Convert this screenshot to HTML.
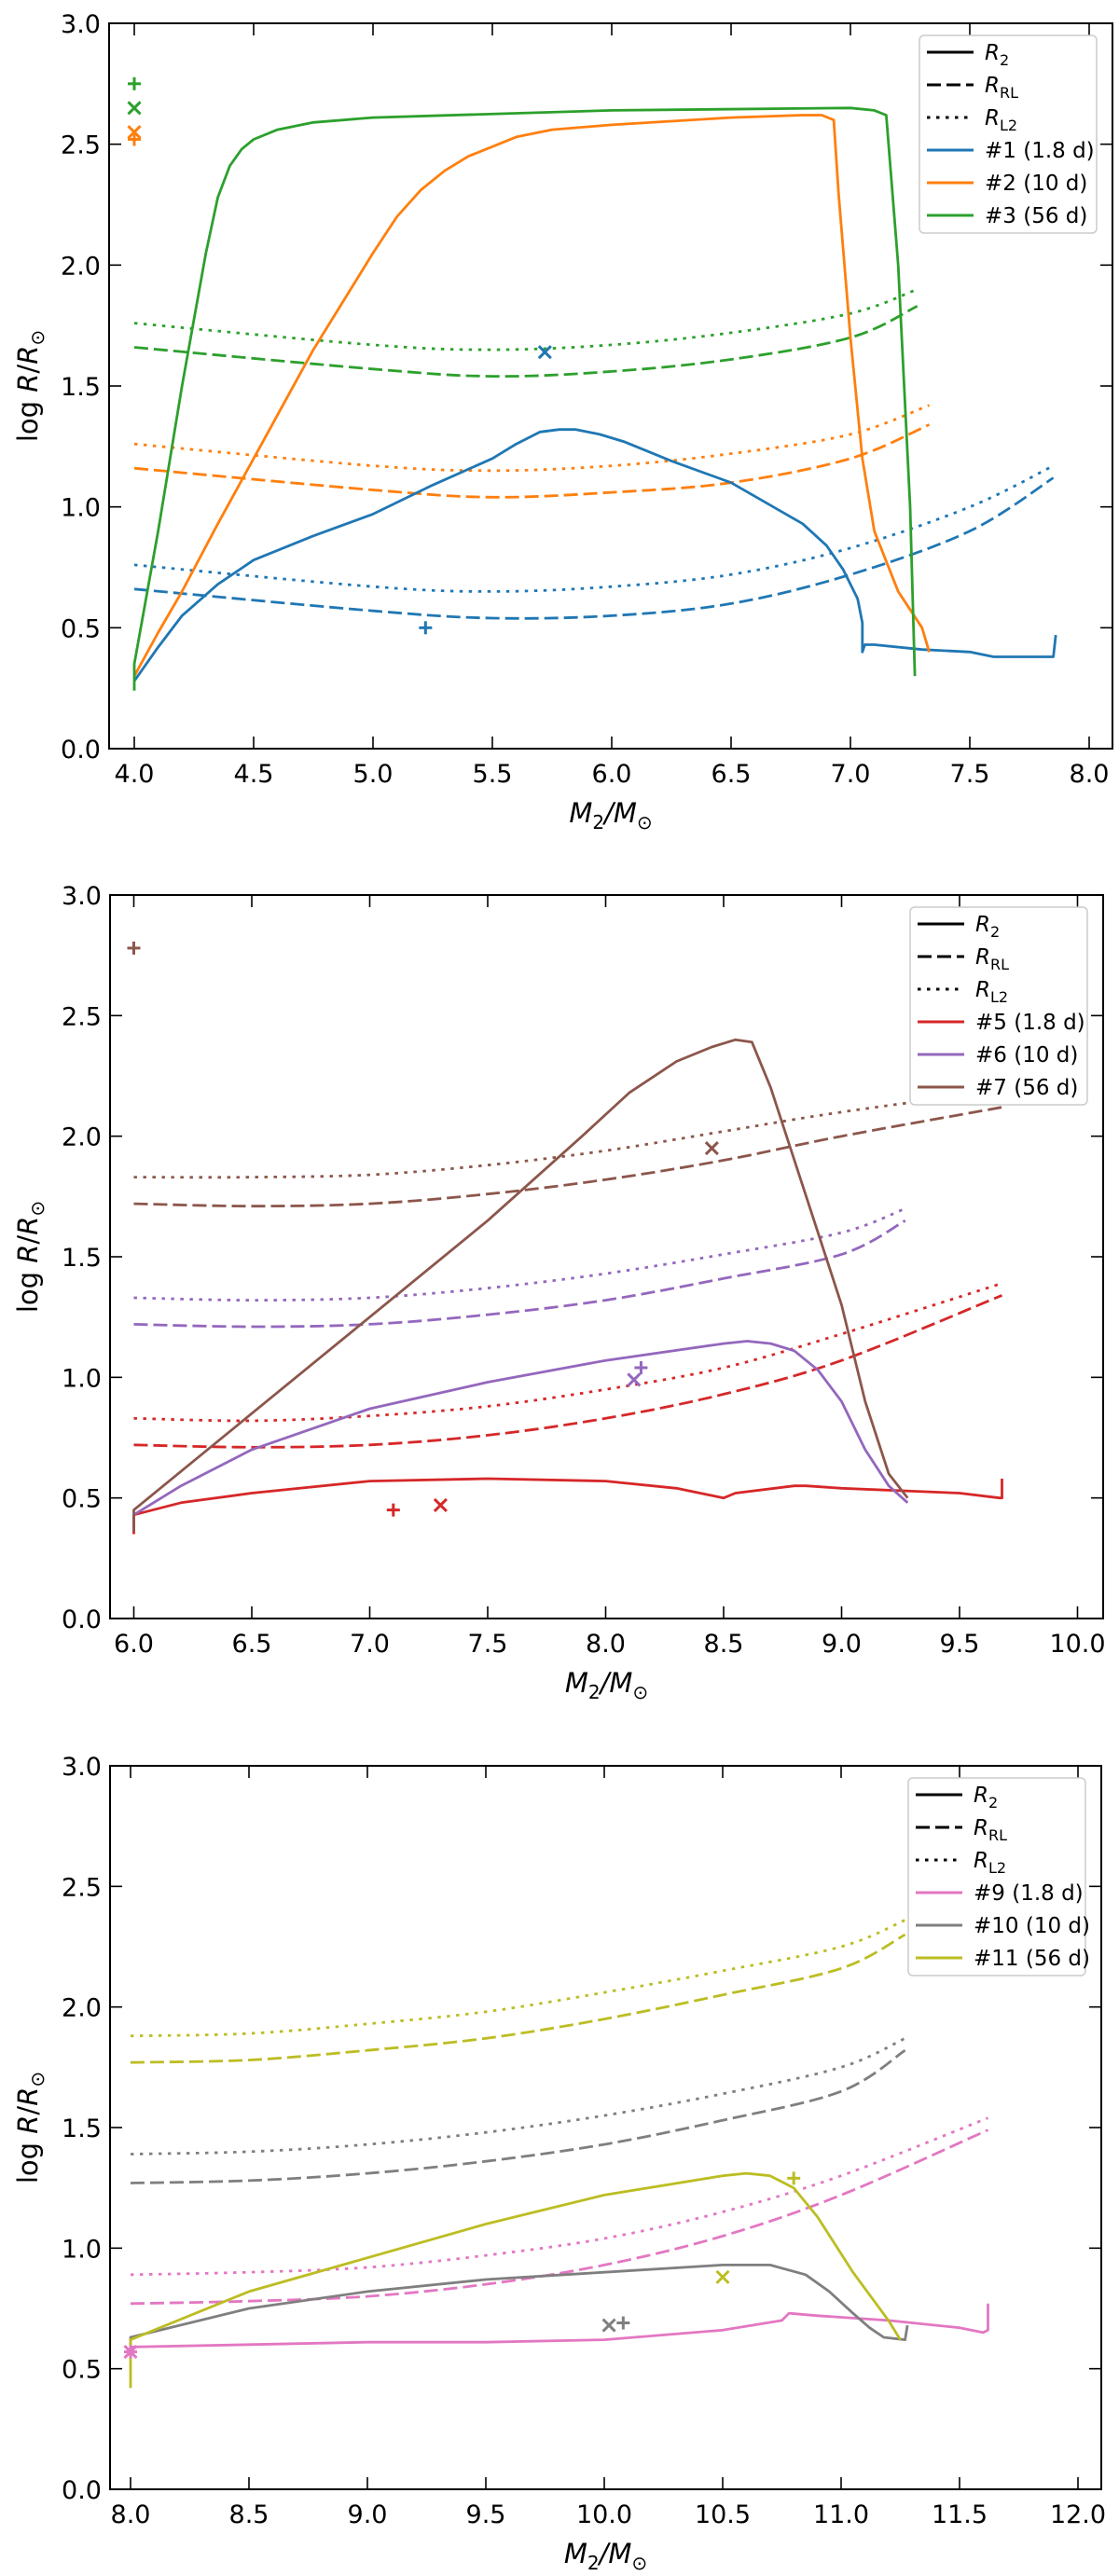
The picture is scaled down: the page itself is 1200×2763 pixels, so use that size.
<!DOCTYPE html>
<html><head><meta charset="utf-8">
<style>
html,body{margin:0;padding:0;background:#fff;}
svg{display:block;font-family:"DejaVu Sans","Liberation Sans",sans-serif;}
</style></head>
<body>
<svg id="fig" width="1200" height="2763" viewBox="0 0 1200 2763" xmlns="http://www.w3.org/2000/svg"></svg>
<script>
// ---------- Panel 1 data ----------
const p1_b_R2_x=[4.0,4.1,4.2,4.35,4.5,4.75,5.0,5.25,5.5,5.6,5.7,5.78,5.85,5.95,6.05,6.25,6.5,6.8,6.9,6.97,7.03,7.05,7.05,7.06,7.1,7.3,7.5,7.6,7.85,7.86];
const p1_b_R2_y=[0.28,0.42,0.55,0.68,0.78,0.88,0.97,1.09,1.2,1.26,1.31,1.32,1.32,1.3,1.27,1.19,1.1,0.93,0.84,0.74,0.62,0.52,0.4,0.43,0.43,0.41,0.4,0.38,0.38,0.47];
const p1_o_R2_x=[4.0,4.1,4.2,4.35,4.5,4.75,5.0,5.1,5.2,5.3,5.4,5.5,5.6,5.75,6.0,6.5,6.8,6.88,6.93,6.95,7.0,7.05,7.1,7.2,7.3,7.33];
const p1_o_R2_y=[0.3,0.48,0.65,0.93,1.2,1.65,2.05,2.2,2.31,2.39,2.45,2.49,2.53,2.56,2.58,2.61,2.62,2.62,2.6,2.3,1.7,1.2,0.9,0.65,0.5,0.4];
const p1_g_R2_x=[4.0,4.0,4.1,4.2,4.3,4.35,4.4,4.45,4.5,4.6,4.75,5.0,6.0,7.0,7.1,7.15,7.2,7.25,7.27];
const p1_g_R2_y=[0.24,0.35,0.9,1.5,2.05,2.28,2.41,2.48,2.52,2.56,2.59,2.61,2.64,2.65,2.64,2.62,2.0,1.0,0.3];
const p1_b_RL_x=[4.0,5.0,5.5,6.0,6.5,7.0,7.5,7.85];
const p1_b_RL_y=[0.66,0.57,0.54,0.55,0.6,0.72,0.9,1.12];
const p1_b_L2_y=[0.76,0.67,0.65,0.67,0.72,0.83,1.0,1.17];
const p1_o_RL_x=[4.0,5.0,5.5,6.0,6.5,7.0,7.33];
const p1_o_RL_y=[1.16,1.07,1.04,1.06,1.1,1.2,1.34];
const p1_o_L2_y=[1.26,1.17,1.15,1.17,1.22,1.3,1.42];
const p1_g_RL_x=[4.0,5.0,5.5,6.0,6.5,7.0,7.28];
const p1_g_RL_y=[1.66,1.57,1.54,1.56,1.61,1.7,1.83];
const p1_g_L2_y=[1.76,1.67,1.65,1.67,1.72,1.8,1.9];
// ---------- Panel 2 data ----------
const p2_r_R2_x=[6.0,6.0,6.2,6.5,7.0,7.5,8.0,8.3,8.5,8.55,8.8,8.85,9.0,9.5,9.67,9.68,9.68];
const p2_r_R2_y=[0.35,0.43,0.48,0.52,0.57,0.58,0.57,0.54,0.5,0.52,0.55,0.55,0.54,0.52,0.5,0.5,0.58];
const p2_p_R2_x=[6.0,6.2,6.5,7.0,7.5,8.0,8.5,8.6,8.7,8.8,8.9,9.0,9.1,9.2,9.28];
const p2_p_R2_y=[0.43,0.55,0.7,0.87,0.98,1.07,1.14,1.15,1.14,1.11,1.03,0.9,0.7,0.55,0.48];
const p2_br_R2_x=[6.0,6.0,6.5,7.0,7.5,7.9,8.1,8.3,8.45,8.55,8.62,8.7,8.8,8.9,9.0,9.1,9.2,9.28];
const p2_br_R2_y=[0.36,0.45,0.85,1.25,1.65,2.0,2.18,2.31,2.37,2.4,2.39,2.2,1.9,1.6,1.3,0.9,0.6,0.5];
const p2_RL_x=[6.0,6.5,7.0,7.5,8.0,8.5,9.0,9.68];
const p2_p_RL_x=[6.0,6.5,7.0,7.5,8.0,8.5,9.0,9.27];
const p2_r_RL_y=[0.72,0.71,0.72,0.76,0.83,0.93,1.07,1.34];
const p2_r_L2_y=[0.83,0.82,0.84,0.88,0.95,1.04,1.18,1.39];
const p2_p_RL_y=[1.22,1.21,1.22,1.26,1.32,1.41,1.51,1.65];
const p2_p_L2_y=[1.33,1.32,1.33,1.37,1.43,1.51,1.6,1.7];
const p2_br_RL_y=[1.72,1.71,1.72,1.76,1.82,1.9,2.0,2.12];
const p2_br_L2_y=[1.83,1.83,1.84,1.88,1.94,2.02,2.1,2.19];
// ---------- Panel 3 data ----------
const p3_pk_R2_x=[8.0,8.0,8.5,9.0,9.5,10.0,10.5,10.75,10.78,10.9,11.2,11.5,11.6,11.62,11.62];
const p3_pk_R2_y=[0.55,0.59,0.6,0.61,0.61,0.62,0.66,0.7,0.73,0.72,0.7,0.67,0.65,0.66,0.77];
const p3_gy_R2_x=[8.0,8.0,8.5,9.0,9.5,10.0,10.5,10.7,10.85,10.95,11.05,11.12,11.18,11.27,11.28];
const p3_gy_R2_y=[0.59,0.63,0.75,0.82,0.87,0.9,0.93,0.93,0.89,0.82,0.73,0.67,0.63,0.62,0.68];
const p3_ol_R2_x=[8.0,8.0,8.5,9.0,9.5,10.0,10.5,10.6,10.7,10.8,10.9,11.05,11.2,11.25];
const p3_ol_R2_y=[0.42,0.62,0.82,0.96,1.1,1.22,1.3,1.31,1.3,1.25,1.13,0.9,0.7,0.62];
const p3_pk_RL_x=[8.0,8.5,9.0,9.5,10.0,10.5,11.0,11.62];
const p3_RL_x=[8.0,8.5,9.0,9.5,10.0,10.5,11.0,11.27];
const p3_pk_RL_y=[0.77,0.78,0.8,0.85,0.93,1.05,1.22,1.49];
const p3_pk_L2_y=[0.89,0.9,0.92,0.97,1.04,1.15,1.3,1.54];
const p3_gy_RL_y=[1.27,1.28,1.31,1.36,1.43,1.53,1.65,1.82];
const p3_gy_L2_y=[1.39,1.4,1.43,1.48,1.55,1.64,1.75,1.87];
const p3_ol_RL_y=[1.77,1.78,1.82,1.87,1.95,2.05,2.16,2.3];
const p3_ol_L2_y=[1.88,1.89,1.93,1.98,2.06,2.15,2.25,2.36];
// markers [type,x,y,color]
const p1_markers=[["+",4.0,2.75,"#2ca02c"],["x",4.0,2.65,"#2ca02c"],["x",4.0,2.55,"#ff7f0e"],["+",4.0,2.52,"#ff7f0e"],["+",5.22,0.5,"#1f77b4"],["x",5.72,1.64,"#1f77b4"]];
const p2_markers=[["+",6.0,2.78,"#8c564b"],["x",8.45,1.95,"#8c564b"],["+",8.15,1.04,"#9467bd"],["x",8.12,0.99,"#9467bd"],["+",7.1,0.45,"#d62728"],["x",7.3,0.47,"#d62728"]];
const p3_markers=[["+",8.0,0.57,"#e377c2"],["x",8.0,0.57,"#e377c2"],["x",10.02,0.68,"#7f7f7f"],["+",10.08,0.69,"#7f7f7f"],["x",10.5,0.88,"#bcbd22"],["+",10.8,1.29,"#bcbd22"]];
const yTicks=[0.0,0.5,1.0,1.5,2.0,2.5,3.0];

const NS="http://www.w3.org/2000/svg";
const fig=document.getElementById('fig');
function mk(tag,attrs,parent){const e=document.createElementNS(NS,tag);for(const k in attrs)e.setAttribute(k,attrs[k]);(parent||fig).appendChild(e);return e;}

function smoothPath(P){
  let d='M'+P[0][0].toFixed(1)+','+P[0][1].toFixed(1);
  for(let i=0;i<P.length-1;i++){
    const p0=P[i-1]||P[i],p1=P[i],p2=P[i+1],p3=P[i+2]||P[i+1];
    const c1x=p1[0]+(p2[0]-p0[0])/6,c1y=p1[1]+(p2[1]-p0[1])/6;
    const c2x=p2[0]-(p3[0]-p1[0])/6,c2y=p2[1]-(p3[1]-p1[1])/6;
    d+=' C'+c1x.toFixed(1)+','+c1y.toFixed(1)+' '+c2x.toFixed(1)+','+c2y.toFixed(1)+' '+p2[0].toFixed(1)+','+p2[1].toFixed(1);
  }
  return d;
}

function panel(cfg){
  const g=mk('g',{});
  
  
  const X=v=>cfg.x0px+(v-cfg.x0)*cfg.ppu;
  const Y=v=>cfg.bottom-(v/3)*(cfg.bottom-cfg.top);
  const clipId='clip'+cfg.name;
  const cp=mk('clipPath',{id:clipId},g);
  mk('rect',{x:cfg.left,y:cfg.top,width:cfg.right-cfg.left,height:cfg.bottom-cfg.top},cp);
  const plot=mk('g',{'clip-path':'url(#'+clipId+')'},g);
  function line(xs,ys,color,style,name){
    const P=xs.map((x,i)=>[X(x),Y(ys[i])]);
    const a={fill:'none',stroke:color,'stroke-width':2.8,'stroke-linejoin':'round'};
    let e;
    if(style==='dash'||style==='dot'){
      a.d=smoothPath(P);
      a['stroke-dasharray']=style==='dash'?'15 6':'3.5 6.5';
      e=mk('path',a,plot);
    } else {
      a.points=P.map(p=>p[0].toFixed(1)+','+p[1].toFixed(1)).join(' ');
      e=mk('polyline',a,plot);
    }
    
    
  }
  cfg.lines.forEach(l=>line(l[0],l[1],l[2],l[3],l[4]));
  cfg.markers.forEach(m=>{
    const cx=X(m[1]),cy=Y(m[2]),s=m[0]==='+'?7:6.5;
    const mg=mk('g',{stroke:m[3],'stroke-width':3},plot);
    
    
    if(m[0]==='+'){mk('line',{x1:cx-s,y1:cy,x2:cx+s,y2:cy},mg);mk('line',{x1:cx,y1:cy-s,x2:cx,y2:cy+s},mg);}
    else{mk('line',{x1:cx-s,y1:cy-s,x2:cx+s,y2:cy+s},mg);mk('line',{x1:cx-s,y1:cy+s,x2:cx+s,y2:cy-s},mg);}
  });
  const fr=mk('rect',{x:cfg.left,y:cfg.top,width:cfg.right-cfg.left,height:cfg.bottom-cfg.top,fill:'none',stroke:'#000','stroke-width':2},g);
  
  
  cfg.xTicks.forEach(t=>{
    const x=X(t);
    mk('line',{x1:x,y1:cfg.bottom,x2:x,y2:cfg.bottom-13,stroke:'#000','stroke-width':1.6},g);
    mk('line',{x1:x,y1:cfg.top,x2:x,y2:cfg.top+13,stroke:'#000','stroke-width':1.6},g);
    const tx=mk('text',{x:x,y:cfg.bottom+36,'font-size':27,'text-anchor':'middle',fill:'#000'},g);
    tx.textContent=t.toFixed(1);
    
    
  });
  yTicks.forEach(t=>{
    const y=Y(t);
    mk('line',{x1:cfg.left,y1:y,x2:cfg.left+13,y2:y,stroke:'#000','stroke-width':1.6},g);
    mk('line',{x1:cfg.right,y1:y,x2:cfg.right-13,y2:y,stroke:'#000','stroke-width':1.6},g);
    const tx=mk('text',{x:cfg.left-9,y:y+10,'font-size':27,'text-anchor':'end',fill:'#000'},g);
    tx.textContent=t.toFixed(1);
    
    
  });
  const xl=mk('text',{x:(cfg.left+cfg.right)/2,y:cfg.bottom+79,'font-size':29,'text-anchor':'middle','font-style':'italic'},g);
  xl.innerHTML='M<tspan font-size="20" dy="7" font-style="normal">2</tspan><tspan dy="-7">/M</tspan><tspan font-size="20" dy="7" font-style="normal">⊙</tspan>';
  
  
  const cy=(cfg.top+cfg.bottom)/2;
  const yl=mk('text',{x:0,y:0,'font-size':29,'text-anchor':'middle',transform:'translate(40,'+cy+') rotate(-90)'},g);
  yl.innerHTML='log <tspan font-style="italic">R</tspan>/<tspan font-style="italic">R</tspan><tspan font-size="20" dy="7">⊙</tspan>';
  
  
  const lx=cfg.right-207,ly=cfg.top+13;
  const lg=mk('g',{},g);
  
  
  mk('rect',{x:lx,y:ly,width:190,height:212,rx:5,fill:'#fff',stroke:'#ccc','stroke-width':1.5},lg);
  const entries=[['#000','solid','R','2'],['#000','dash','R','RL'],['#000','dot','R','L2']].concat(cfg.legend.map(e=>[e[0],'solid',e[1],null]));
  entries.forEach((e,i)=>{
    const yy=ly+18+i*35;
    const a={x1:lx+8,y1:yy,x2:lx+58,y2:yy,stroke:e[0],'stroke-width':3};
    if(e[1]==='dash')a['stroke-dasharray']='15 6';
    if(e[1]==='dot')a['stroke-dasharray']='3.5 6.5';
    const ent=mk('g',{},lg);
    
    
    mk('line',a,ent);
    const t=mk('text',{x:lx+70,y:yy+8,'font-size':23},ent);
    if(e[3]!==null){t.innerHTML='<tspan font-style="italic">'+e[2]+'</tspan><tspan font-size="16" dy="6">'+e[3]+'</tspan>';}
    else t.textContent=e[2];
  });
}

panel({name:'panel-1',left:117,right:1193,top:25,bottom:803,x0:4.0,x0px:144,ppu:256,
  xTicks:[4.0,4.5,5.0,5.5,6.0,6.5,7.0,7.5,8.0],
  lines:[[p1_b_RL_x,p1_b_RL_y,'#1f77b4','dash','rl-1'],[p1_b_RL_x,p1_b_L2_y,'#1f77b4','dot','l2-1'],
    [p1_o_RL_x,p1_o_RL_y,'#ff7f0e','dash','rl-2'],[p1_o_RL_x,p1_o_L2_y,'#ff7f0e','dot','l2-2'],
    [p1_g_RL_x,p1_g_RL_y,'#2ca02c','dash','rl-3'],[p1_g_RL_x,p1_g_L2_y,'#2ca02c','dot','l2-3'],
    [p1_b_R2_x,p1_b_R2_y,'#1f77b4','solid','r2-1'],[p1_o_R2_x,p1_o_R2_y,'#ff7f0e','solid','r2-2'],[p1_g_R2_x,p1_g_R2_y,'#2ca02c','solid','r2-3']],
  markers:p1_markers,
  legend:[['#1f77b4','#1 (1.8 d)'],['#ff7f0e','#2 (10 d)'],['#2ca02c','#3 (56 d)']]});
panel({name:'panel-2',left:118,right:1183,top:960,bottom:1736,x0:6.0,x0px:143.5,ppu:253,
  xTicks:[6.0,6.5,7.0,7.5,8.0,8.5,9.0,9.5,10.0],
  lines:[[p2_RL_x,p2_r_RL_y,'#d62728','dash','rl-5'],[p2_RL_x,p2_r_L2_y,'#d62728','dot','l2-5'],
    [p2_p_RL_x,p2_p_RL_y,'#9467bd','dash','rl-6'],[p2_p_RL_x,p2_p_L2_y,'#9467bd','dot','l2-6'],
    [p2_RL_x,p2_br_RL_y,'#8c564b','dash','rl-7'],[p2_RL_x,p2_br_L2_y,'#8c564b','dot','l2-7'],
    [p2_r_R2_x,p2_r_R2_y,'#d62728','solid','r2-5'],[p2_p_R2_x,p2_p_R2_y,'#9467bd','solid','r2-6'],[p2_br_R2_x,p2_br_R2_y,'#8c564b','solid','r2-7']],
  markers:p2_markers,
  legend:[['#d62728','#5 (1.8 d)'],['#9467bd','#6 (10 d)'],['#8c564b','#7 (56 d)']]});
panel({name:'panel-3',left:118,right:1181,top:1894,bottom:2670,x0:8.0,x0px:140,ppu:254,
  xTicks:[8.0,8.5,9.0,9.5,10.0,10.5,11.0,11.5,12.0],
  lines:[[p3_pk_RL_x,p3_pk_RL_y,'#e377c2','dash','rl-9'],[p3_pk_RL_x,p3_pk_L2_y,'#e377c2','dot','l2-9'],
    [p3_RL_x,p3_gy_RL_y,'#7f7f7f','dash','rl-10'],[p3_RL_x,p3_gy_L2_y,'#7f7f7f','dot','l2-10'],
    [p3_RL_x,p3_ol_RL_y,'#bcbd22','dash','rl-11'],[p3_RL_x,p3_ol_L2_y,'#bcbd22','dot','l2-11'],
    [p3_pk_R2_x,p3_pk_R2_y,'#e377c2','solid','r2-9'],[p3_gy_R2_x,p3_gy_R2_y,'#7f7f7f','solid','r2-10'],[p3_ol_R2_x,p3_ol_R2_y,'#bcbd22','solid','r2-11']],
  markers:p3_markers,
  legend:[['#e377c2','#9 (1.8 d)'],['#7f7f7f','#10 (10 d)'],['#bcbd22','#11 (56 d)']]});
</script>
</body></html>
